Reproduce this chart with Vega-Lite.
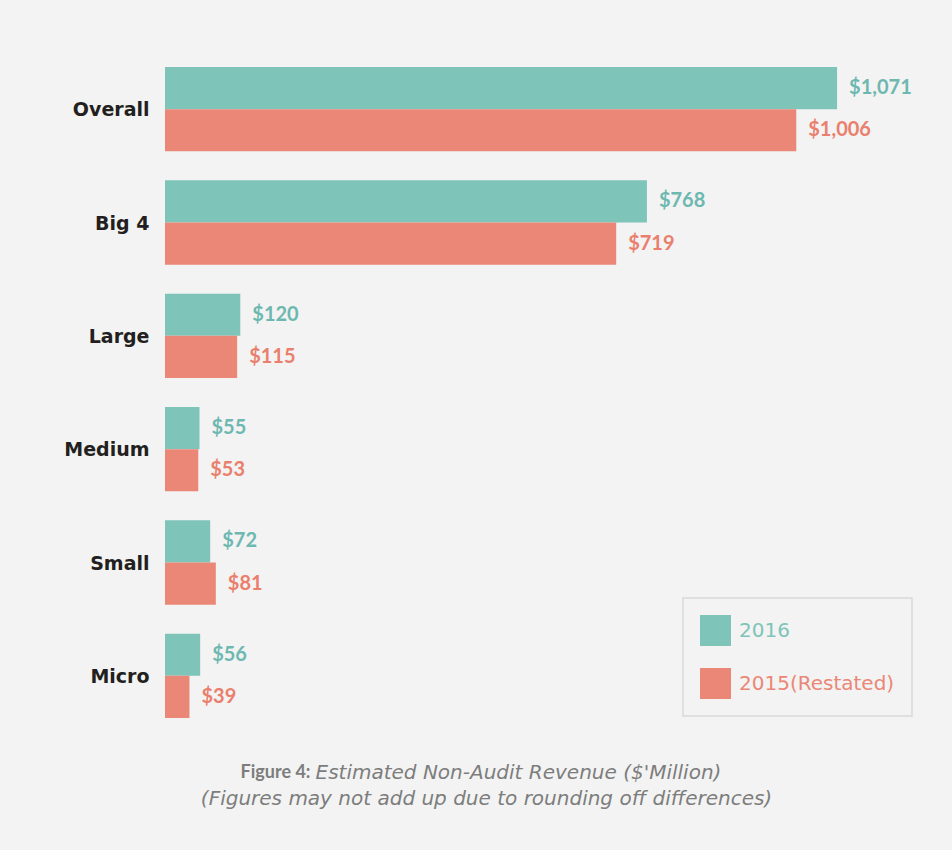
{
  "$schema": "https://vega.github.io/schema/vega-lite/v6.json",
  "width": 753,
  "height": 680,
  "autosize": {"type": "none"},
  "padding": {"left": 165, "top": 52.5, "right": 34, "bottom": 117.5},
  "background": "#f2f3f2",
  "config": {"view": {"stroke": null}, "font": "Lato"},
  "title": {
    "text": "(Figures may not add up due to rounding off differences)",
    "orient": "bottom",
    "anchor": "middle",
    "frame": "group",
    "dx": -55,
    "offset": 6,
    "font": "DejaVu Sans",
    "fontSize": 20,
    "fontStyle": "italic",
    "fontWeight": "normal",
    "color": "#7d7d7d"
  },
  "data": {
    "values": [
      {"category": "Overall", "series": "2016", "value": 1071},
      {"category": "Overall", "series": "2015(Restated)", "value": 1006},
      {"category": "Big 4", "series": "2016", "value": 768},
      {"category": "Big 4", "series": "2015(Restated)", "value": 719},
      {"category": "Large", "series": "2016", "value": 120},
      {"category": "Large", "series": "2015(Restated)", "value": 115},
      {"category": "Medium", "series": "2016", "value": 55},
      {"category": "Medium", "series": "2015(Restated)", "value": 53},
      {"category": "Small", "series": "2016", "value": 72},
      {"category": "Small", "series": "2015(Restated)", "value": 81},
      {"category": "Micro", "series": "2016", "value": 56},
      {"category": "Micro", "series": "2015(Restated)", "value": 39}
    ]
  },
  "encoding": {
    "y": {
      "field": "category",
      "type": "nominal",
      "sort": ["Overall", "Big 4", "Large", "Medium", "Small", "Micro"],
      "scale": {"paddingInner": 0.256, "paddingOuter": 0.128},
      "axis": {
        "domain": false,
        "ticks": false,
        "labelPadding": 16,
        "labelFont": "DejaVu Sans",
        "labelFontSize": 19,
        "labelFontWeight": "bold",
        "labelColor": "#231f20",
        "labelBaseline": "middle",
        "labelOffset": 1,
        "title": "Estimated Non-Audit Revenue ($'Million)",
        "titleAngle": 0,
        "titleX": 150,
        "titleY": 720,
        "titleAlign": "left",
        "titleBaseline": "middle",
        "titleFont": "DejaVu Sans",
        "titleFontSize": 20,
        "titleFontStyle": "italic",
        "titleFontWeight": "normal",
        "titleColor": "#7d7d7d"
      }
    },
    "yOffset": {
      "field": "series",
      "type": "nominal",
      "sort": ["2016", "2015(Restated)"]
    },
    "x": {
      "field": "value",
      "type": "quantitative",
      "scale": {"domain": [0, 1200]},
      "axis": {
        "domain": false,
        "ticks": false,
        "labels": false,
        "grid": false,
        "title": "Figure 4:",
        "titleX": 145,
        "titleY": 40,
        "titleAlign": "right",
        "titleBaseline": "middle",
        "titleFont": "Lato",
        "titleFontSize": 18,
        "titleFontWeight": "bold",
        "titleColor": "#7d7d7d"
      }
    }
  },
  "layer": [
    {
      "mark": {"type": "bar"},
      "encoding": {
        "color": {
          "field": "series",
          "type": "nominal",
          "sort": ["2016", "2015(Restated)"],
          "scale": {"domain": ["2016", "2015(Restated)"], "range": ["#7fc4b9", "#eb8777"]},
          "legend": {
            "title": null,
            "orient": "none",
            "legendX": 518,
            "legendY": 545.5,
            "padding": 17,
            "strokeColor": "#d9d9d9",
            "symbolType": "square",
            "symbolSize": 961,
            "symbolStrokeWidth": 0,
            "rowPadding": 22,
            "labelOffset": 8,
            "labelFont": "DejaVu Sans",
            "labelFontSize": 20,
            "labelLimit": 300,
            "encode": {
              "labels": {"update": {"fill": {"signal": "datum.value === '2016' ? '#7fc4b9' : '#eb8777'"}}},
              "legend": {"update": {"strokeWidth": {"value": 1.5}}}
            }
          }
        }
      }
    },
    {
      "mark": {"type": "text", "align": "left", "baseline": "middle", "dx": 12, "font": "Lato", "fontSize": 20, "fontWeight": "bold"},
      "encoding": {
        "text": {"field": "value", "type": "quantitative", "format": "$,.0f"},
        "color": {
          "condition": {"test": "datum.series === '2016'", "value": "#6db8b0"},
          "value": "#ea7f6d"
        }
      }
    }
  ]
}
